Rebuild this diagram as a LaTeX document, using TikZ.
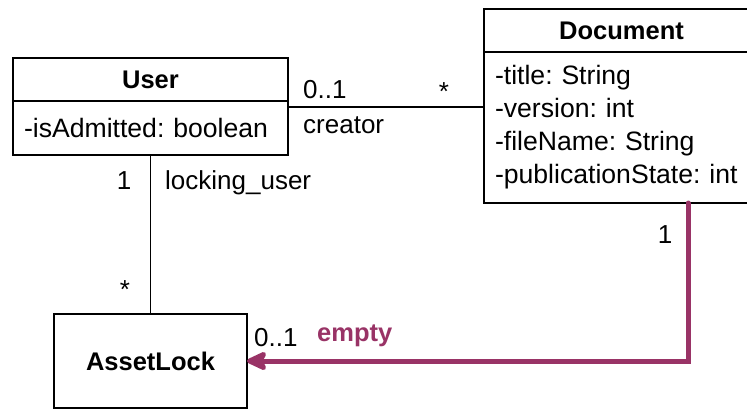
\documentclass[tikz,border=0pt]{standalone}
\usepackage{fontspec}
\setmainfont{Liberation Sans}
\frenchspacing
\usetikzlibrary{arrows.meta,calc}
\definecolor{plum}{RGB}{153,51,102}
\tikzset{
  box/.style={draw, line width=1.2pt, inner sep=0pt, outer sep=0pt},
  headfont/.style={font=\bfseries\fontsize{25.5}{30}\selectfont},
  bodyfont/.style={font=\fontsize{26.6}{33}\selectfont},
  lbl/.style={font=\fontsize{26}{30}\selectfont, inner sep=0pt},
  assoc/.style={line width=1.2pt},
  dep/.style={line width=5pt, draw=plum, line cap=round,
    -{Stealth[length=25pt,width=23pt,inset=6pt,round]}}
}
\begin{document}
\begin{tikzpicture}[x=1pt,y=-1pt]
\useasboundingbox (0,0) rectangle (747,410);
\fill[white] (0,0) rectangle (747,410);
\clip (0,0) rectangle (747,410);
% User
\node[box, headfont, minimum width=275pt, minimum height=43pt] (userhead) at (150.5,79.5) {User};
\node[box, bodyfont, minimum width=275pt, minimum height=54pt, text width=253pt, align=left, anchor=north] (userbody) at (userhead.south) {-isAdmitted: boolean};
% Document (its right side runs past the edge of the picture)
\node[box, headfont, minimum width=290pt, minimum height=43pt] (dochead) at (629,30.5) {Document\hspace*{15pt}};
\node[box, bodyfont, minimum width=290pt, minimum height=151pt, text width=268pt, align=left, anchor=north] (docbody) at (dochead.south) {-title: String\\-version: int\\-fileName: String\\-publicationState: int};
% AssetLock
\node[box, headfont, minimum width=193pt, minimum height=94pt] (asset) at (150.5,361) {AssetLock};
% connectors
\coordinate (ua) at ($(userbody.north east)+(0,6)$);
\draw[assoc] (ua) -- (ua -| docbody.west);
\draw[assoc] (userbody.south) -- (asset.north);
\coordinate (dx) at (688,0);
\draw[dep] (docbody.south -| dx) |- (asset.east);
% labels
\node[lbl, anchor=base west] (m1) at (303,98) {0..1};
\node[lbl, anchor=base] (m2) at (444,100) {*};
\node[lbl, anchor=base west] (rc) at (303,133) {creator};
\node[lbl, anchor=base] (m3) at (124,189) {1};
\node[lbl, anchor=base west] (rl) at (165,189) {locking\_user};
\node[lbl, anchor=base] (m4) at (125,298) {*};
\node[lbl, anchor=base] (m5) at (665,243) {1};
\node[lbl, anchor=base west] (m6) at (254,346) {0..1};
\node[lbl, anchor=base west, text=plum, font=\bfseries\fontsize{25.5}{30}\selectfont] (re) at (317,341) {empty};
\end{tikzpicture}
\end{document}
